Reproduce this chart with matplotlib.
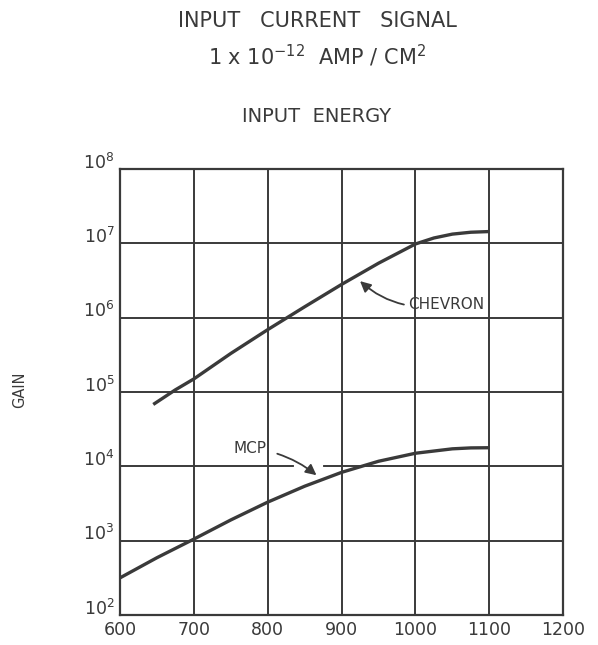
import numpy as np
import matplotlib
matplotlib.use('Agg')
import matplotlib.pyplot as plt
import matplotlib.transforms as mtransforms

# data (input energy in eV vs gain)
chevron_x = [645, 675, 700, 750, 800, 850, 900, 950, 1000, 1025, 1050, 1075, 1100]
chevron_gain = [6.8e4, 1.07e5, 1.5e5, 3.3e5, 6.9e5, 1.4e6, 2.8e6, 5.4e6, 9.8e6, 1.18e7, 1.33e7, 1.41e7, 1.44e7]
mcp_x = [600, 650, 700, 750, 800, 850, 900, 950, 1000, 1050, 1075, 1100]
mcp_gain = [316, 590, 1050, 1900, 3300, 5400, 8300, 1.17e4, 1.5e4, 1.72e4, 1.77e4, 1.78e4]

x_ticks = [600, 700, 800, 900, 1000, 1100, 1200]
y_exps = [2, 3, 4, 5, 6, 7, 8]

ink = '#3a3a3a'
plt.rcParams['font.family'] = ['DejaVu Sans']
plt.rcParams['mathtext.fontset'] = 'dejavusans'

fig = plt.figure(figsize=(5.98, 6.45), dpi=100)
ax = fig.add_axes([0.2007, 0.0465, 0.741, 0.6915])

ax.set_yscale('log')
ax.set_xlim(600, 1200)
ax.set_ylim(1e2, 1e8)

ax.plot(chevron_x, chevron_gain, color=ink, lw=2.4, solid_capstyle='butt')
ax.plot(mcp_x, mcp_gain, color=ink, lw=2.4, solid_capstyle='butt')

ax.set_xticks(x_ticks)
ax.set_xticklabels([str(v) for v in x_ticks], fontsize=12.5, color=ink)
ax.set_yticks([10.0 ** e for e in y_exps])
ax.set_yticklabels([r'$10^{%d}$' % e for e in y_exps], fontsize=12.5, color=ink)
ax.yaxis.set_minor_locator(matplotlib.ticker.NullLocator())
ax.tick_params(length=0, pad=4)
# the hand-lettered y labels sit a little above their grid lines
lift = mtransforms.ScaledTranslation(0, 6 / 72, fig.dpi_scale_trans)
for lab in ax.get_yticklabels():
    lab.set_transform(lab.get_transform() + lift)
ax.grid(True, which='major', color=ink, lw=1.4)
for s in ax.spines.values():
    s.set_color(ink)
    s.set_linewidth(1.6)

ax.annotate('CHEVRON', xy=(925, 3.1e6), xytext=(990, 1.5e6),
            color=ink, fontsize=11, ha='left', va='center',
            arrowprops=dict(arrowstyle='-|>', color=ink, lw=1.3, shrinkA=1, shrinkB=0,
                            connectionstyle='arc3,rad=-0.25', mutation_scale=16))
ax.annotate('MCP', xy=(866, 7.6e3), xytext=(776, 1.76e4),
            color=ink, fontsize=11, ha='center', va='center',
            arrowprops=dict(arrowstyle='-|>', color=ink, lw=1.3, shrinkA=6, shrinkB=0,
                            connectionstyle='arc3,rad=-0.15', mutation_scale=16))
# gap in the 10^4 grid line around the MCP arrow tip
ax.plot([838, 872], [1e4, 1e4], color='white', lw=3, zorder=2.5)

fig.text(0.53, 0.967, 'INPUT   CURRENT   SIGNAL', ha='center', va='center', fontsize=15, color=ink)
fig.text(0.53, 0.913, r'1 x $10^{-12}$  AMP / CM$^{2}$', ha='center', va='center', fontsize=15, color=ink)
fig.text(0.53, 0.820, 'INPUT  ENERGY', ha='center', va='center', fontsize=14, color=ink)
fig.text(0.033, 0.395, 'GAIN', rotation=90, ha='center', va='center', fontsize=10.5, color=ink)

fig.savefig('out.png', dpi=100, facecolor='white')
